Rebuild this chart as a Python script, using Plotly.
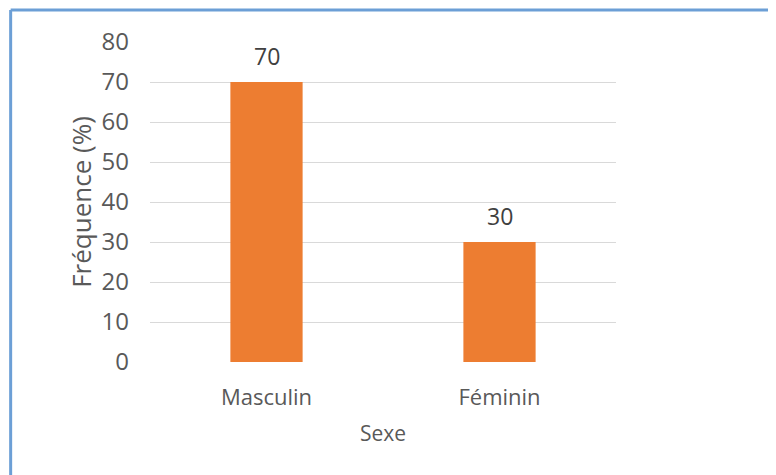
import plotly.graph_objects as go

categories = ["Masculin", "Féminin"]
values = [70, 30]
y_ticks = [0, 10, 20, 30, 40, 50, 60, 70, 80]

# page body has an 8px margin, so the figure is drawn 8px smaller and offset
OFF = 8
W, H = 776 - OFF, 475 - OFF
L, T = 150 - OFF, 41.5 - OFF
R = 776 - 616.5
B = 475 - 361.7
pw, ph = W - L - R, H - T - B

def px_x(p):
    return (p - OFF - L) / pw

def px_y(p):
    return (H - B - (p - OFF)) / ph

font_fam = "Open Sans, Liberation Sans, sans-serif"
grey = "#595959"

fig = go.Figure()
fig.add_trace(go.Bar(
    x=categories, y=values,
    marker=dict(color="#ED7D31", line=dict(width=0)),
    width=0.31,
    hoverinfo="skip",
))

for c, v in zip(categories, values):
    fig.add_annotation(x=c, y=v, text=str(v), showarrow=False,
                       yanchor="bottom", yshift=8,
                       font=dict(family=font_fam, size=23, color="#404040"))

fig.update_layout(
    width=W, height=H,
    margin=dict(l=L, r=R, t=T, b=B, autoexpand=False),
    paper_bgcolor="white", plot_bgcolor="white",
    showlegend=False,
    font=dict(family=font_fam, size=20, color=grey),
    xaxis=dict(
        showgrid=False, showline=False, zeroline=False,
        tickfont=dict(size=22, color=grey),
        ticks="", ticklabelstandoff=20,
        title=dict(text="Sexe", font=dict(size=21, color=grey), standoff=16),
    ),
    yaxis=dict(
        range=[0, 80], tickvals=y_ticks,
        showgrid=True, gridcolor="#D9D9D9", gridwidth=1,
        zeroline=False, showline=False,
        tickfont=dict(size=24, color=grey),
        ticks="", ticklabelstandoff=20,
        title=dict(text="Fréquence (%)", font=dict(size=26, color=grey), standoff=2),
    ),
    shapes=[
        dict(type="line", xref="paper", yref="paper",
             x0=px_x(10.5), x1=px_x(800), y0=px_y(9.5), y1=px_y(9.5),
             line=dict(color="#6C9FD6", width=3), layer="above"),
        dict(type="line", xref="paper", yref="paper",
             x0=px_x(10.5), x1=px_x(10.5), y0=px_y(9.5), y1=px_y(500),
             line=dict(color="#6C9FD6", width=3), layer="above"),
    ],
)

fig.write_html("out.html")
